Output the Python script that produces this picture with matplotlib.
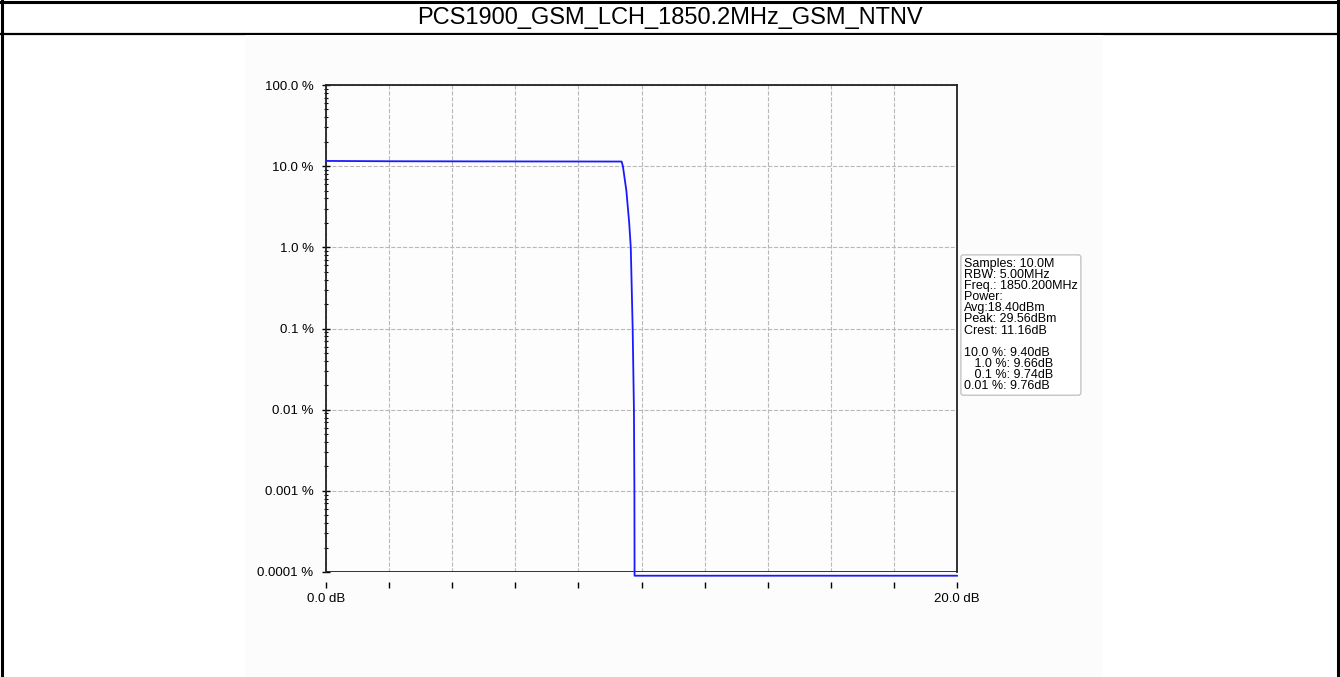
import matplotlib
matplotlib.use("Agg")
import matplotlib.pyplot as plt
from matplotlib.patches import Rectangle
from matplotlib.lines import Line2D
from matplotlib.ticker import FixedLocator, FixedFormatter, LogLocator, NullFormatter

plt.rcParams["font.family"] = ["Liberation Sans", "DejaVu Sans"]

# --------------------------------------------------
# DATI
# --------------------------------------------------

titolo = "PCS1900_GSM_LCH_1850.2MHz_GSM_NTNV"

# curva CCDF: livello sopra la media (dB) e probabilita' (%)
livello_db = [0.0, 2.0, 5.0, 9.37, 9.41, 9.52, 9.61, 9.66, 9.72, 9.76, 9.775, 9.78, 9.78, 20.0]
probabilita = [11.6, 11.5, 11.45, 11.4, 10.0, 5.0, 2.0, 1.0, 0.1, 0.01, 0.001, 0.0001, 0.00009, 0.00009]

tick_y = [100, 10, 1, 0.1, 0.01, 0.001, 0.0001]
etichette_y = ["100.0 %", "10.0 %", "1.0 %", "0.1 %", "0.01 %", "0.001 %", "0.0001 %"]
tick_x = [0, 2, 4, 6, 8, 10, 12, 14, 16, 18, 20]
etichette_x = ["0.0 dB", "", "", "", "", "", "", "", "", "", "20.0 dB"]

info = [
    "Samples: 10.0M",
    "RBW: 5.00MHz",
    "Freq.: 1850.200MHz",
    "Power:",
    "Avg:18.40dBm",
    "Peak: 29.56dBm",
    "Crest: 11.16dB",
    "",
    "10.0 %: 9.40dB",
    "   1.0 %: 9.66dB",
    "   0.1 %: 9.74dB",
    "0.01 %: 9.76dB",
]

# --------------------------------------------------
# FIGURA E CORNICE
# --------------------------------------------------

W, H = 1340, 677
fig = plt.figure(figsize=(W / 100, H / 100), dpi=100)
fig.patch.set_facecolor("white")

def px(x, y):
    return x / W, 1 - y / H

# bordi della tabella
fig.lines.append(Line2D([0, 1], [1 - 2 / H, 1 - 2 / H], transform=fig.transFigure, color="black", lw=2.2, zorder=1))
fig.lines.append(Line2D([0, 1], [1 - 34 / H, 1 - 34 / H], transform=fig.transFigure, color="black", lw=1.6, zorder=1))
fig.lines.append(Line2D([1.5 / W, 1.5 / W], [0, 1], transform=fig.transFigure, color="black", lw=2.2, zorder=1))
fig.lines.append(Line2D([1 - 2 / W, 1 - 2 / W], [0, 1], transform=fig.transFigure, color="black", lw=2.2, zorder=1))

# sfondo dell'immagine del grafico
x0, y0 = px(245, 677)
fig.patches.append(Rectangle((x0, y0), (1103 - 245) / W, (677 - 35) / H, transform=fig.transFigure,
                             facecolor="#fcfcfc", edgecolor="none", zorder=2))

fig.text(0.5, 1 - 18 / H, titolo, ha="center", va="center", fontsize=17, color="black")

# --------------------------------------------------
# GRAFICO CCDF
# --------------------------------------------------

sx, sb = px(326, 572)
ax = fig.add_axes([sx, sb, (957 - 326) / W, (572 - 85) / H])
ax.set_facecolor("#fdfdfd")
ax.set_zorder(3)

ax.plot(livello_db, probabilita, color="#1a1aff", lw=1.3, clip_on=False, zorder=4)

ax.set_yscale("log")
ax.set_xlim(0, 20)
ax.set_ylim(0.0001, 100)

ax.yaxis.set_major_locator(FixedLocator(tick_y))
ax.yaxis.set_major_formatter(FixedFormatter(etichette_y))
ax.yaxis.set_minor_locator(LogLocator(base=10, subs=range(2, 10)))
ax.yaxis.set_minor_formatter(NullFormatter())
ax.xaxis.set_major_locator(FixedLocator(tick_x))
ax.xaxis.set_major_formatter(FixedFormatter(etichette_x))

ax.grid(True, which="major", color="#b8b8b8", linestyle="--", lw=0.8)

for lato in ["left", "top", "right"]:
    ax.spines[lato].set_color("#222222")
    ax.spines[lato].set_linewidth(1.3)
ax.spines["bottom"].set_position(("outward", 7))
ax.spines["bottom"].set_visible(False)
ax.axhline(0.0001, color="#222222", lw=1.3, zorder=3.5)

ax.tick_params(axis="y", which="major", direction="inout", length=6, width=1, pad=6, labelsize=9.5)
ax.tick_params(axis="y", which="minor", direction="inout", length=3, width=0.8)
ax.tick_params(axis="x", which="major", direction="out", length=4, width=1, pad=4, labelsize=9.5)

# --------------------------------------------------
# RIQUADRO INFO
# --------------------------------------------------

tx, ty = px(964, 258)
fig.text(tx, ty, "\n".join(info), ha="left", va="top", fontsize=9, linespacing=0.9, zorder=5,
         bbox=dict(boxstyle="round,pad=0.25,rounding_size=0.2", facecolor="white", edgecolor="#c4c4c4", lw=1))

fig.savefig("out.png", dpi=100)
